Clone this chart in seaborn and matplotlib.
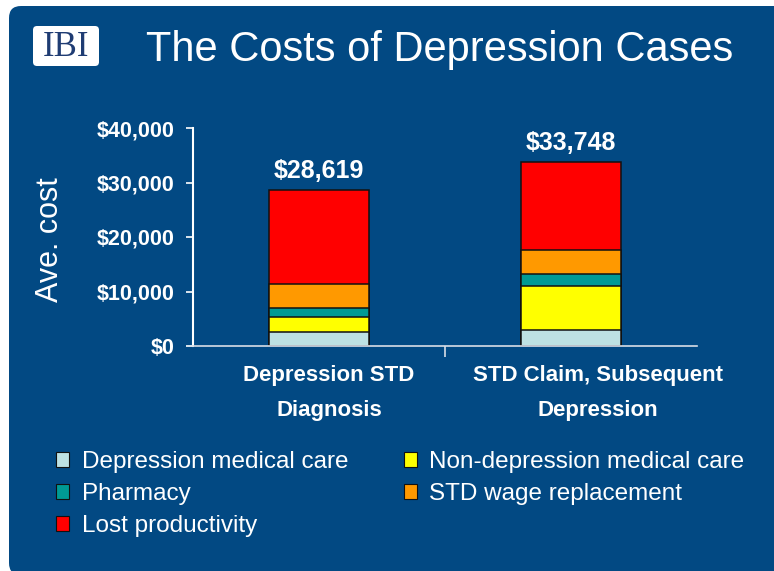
import numpy as np
import matplotlib
matplotlib.use("Agg")
import matplotlib.pyplot as plt
import matplotlib.transforms as mtransforms
from matplotlib.patches import FancyBboxPatch, Patch
from matplotlib.ticker import FuncFormatter, FixedLocator
import seaborn as sns

# Data
categories = ["Depression STD\nDiagnosis", "STD Claim, Subsequent\nDepression"]
components = ["Depression medical care", "Non-depression medical care",
              "Pharmacy", "STD wage replacement", "Lost productivity"]
dep_medical = [2600, 2900]
nondep_medical = [2700, 8100]
pharmacy = [1650, 2200]
std_wage = [4400, 4400]
lost_productivity = [17269, 16148]
totals = [28619, 33748]
y_ticks = [0, 10000, 20000, 30000, 40000]

colors = ["#BDE1E3", "#FFFF00", "#009A94", "#FF9900", "#FF0000"]
bg = "#024983"

sns.set_style("ticks")
plt.rcParams["font.family"] = ["Liberation Sans", "DejaVu Sans"]

fig = plt.figure(figsize=(7.74, 5.71), dpi=100, facecolor="white")

# Rounded blue panel (pixel coordinates)
panel = FancyBboxPatch((9, -4), 800, 565 + 4, boxstyle="round,pad=0,rounding_size=12",
                       facecolor=bg, edgecolor="none",
                       transform=mtransforms.IdentityTransform(), zorder=0)
fig.add_artist(panel)

# IBI logo box
logo = FancyBboxPatch((33, 571 - 66), 66, 40, boxstyle="round,pad=0,rounding_size=4",
                      facecolor="white", edgecolor="none",
                      transform=mtransforms.IdentityTransform(), zorder=1)
fig.add_artist(logo)
fig.text(66 / 774, 1 - 47 / 571, "IBI", family=["Liberation Serif", "DejaVu Serif"],
         fontsize=25, color="#1F3C73", ha="center", va="center", zorder=2)

fig.text(0.5685, 1 - 50 / 571, "The Costs of Depression Cases", color="white",
         fontsize=30, ha="center", va="center")

ax = fig.add_axes([193 / 774, 1 - 346 / 571, 504 / 774, 218 / 571])
ax.set_facecolor("none")

layers = [dep_medical, nondep_medical, pharmacy, std_wage, lost_productivity]
cum = np.cumsum(np.array(layers), axis=0)

# Draw cumulative bars from the top layer down so each segment shows
for i in range(len(layers) - 1, -1, -1):
    sns.barplot(x=categories, y=cum[i], color=colors[i], saturation=1, width=0.4,
                edgecolor="#111111", linewidth=1.1, ax=ax)

ax.set_xlim(-0.5, 1.5)
ax.set_ylim(0, 40000)
ax.set_yticks(y_ticks)
ax.yaxis.set_major_formatter(FuncFormatter(lambda v, p: f"${v:,.0f}"))
ax.tick_params(axis="y", colors="white", labelcolor="white", length=5, width=1.2,
               pad=8, labelsize=15.5)
for lab in ax.get_yticklabels():
    lab.set_fontweight("bold")

ax.set_xticks([0, 1])
ax.set_xticklabels(categories, fontsize=16, fontweight="bold", color="white",
                   linespacing=1.85)
ax.tick_params(axis="x", length=0, pad=14)
shifts = [10, 27]
for lab, dx in zip(ax.get_xticklabels(), shifts):
    lab.set_transform(lab.get_transform() + mtransforms.ScaledTranslation(dx / 100, 0, fig.dpi_scale_trans))
ax.xaxis.set_minor_locator(FixedLocator([0.5]))
ax.tick_params(axis="x", which="minor", length=8, width=1.2, color="#D8DDE6", direction="out")

ax.set_xlabel("")
ax.set_ylabel("")
sns.despine(ax=ax)
ax.spines["left"].set_color("white")
ax.spines["left"].set_linewidth(1.5)
ax.spines["bottom"].set_color("#D8DDE6")
ax.spines["bottom"].set_linewidth(1.2)

for x, t in enumerate(totals):
    ax.annotate(f"${t:,}", xy=(x, t), xytext=(0, 9), textcoords="offset points",
                ha="center", va="baseline", color="white", fontsize=18,
                fontweight="bold")

fig.text(50 / 774, 1 - 240 / 571, "Ave. cost", rotation=90, color="white",
         fontsize=22, ha="center", va="center")

handles = [Patch(facecolor=c, edgecolor="#111111", linewidth=0.8) for c in colors]
order = [0, 2, 4, 1, 3]
leg = fig.legend([handles[i] for i in order], [components[i] for i in order],
                 ncol=2, loc="upper left", bbox_to_anchor=(56 / 774, 1 - 451 / 571),
                 frameon=False, fontsize=17.5, labelcolor="white",
                 handlelength=0.55, handleheight=0.55, handletextpad=0.5,
                 columnspacing=2.3, labelspacing=0.42, borderpad=0, borderaxespad=0)

fig.savefig("out.png", dpi=100, facecolor="white")
